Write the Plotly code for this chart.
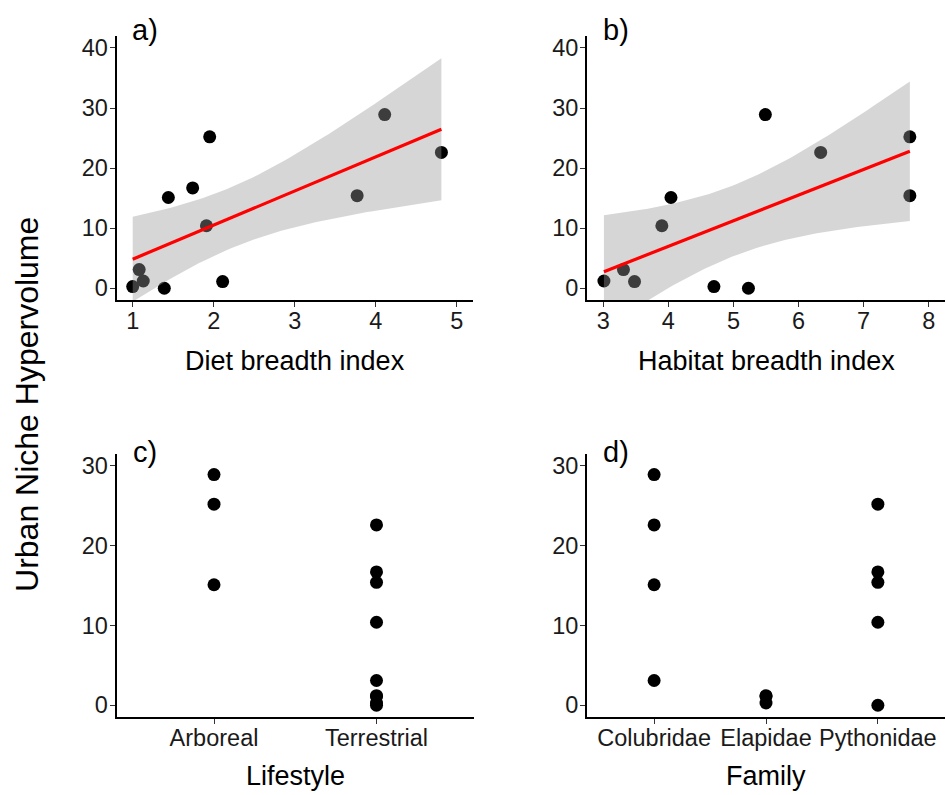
import numpy as np
import plotly.graph_objects as go

# ---------------- data ----------------
diet_x = [1.00, 1.08, 1.13, 1.39, 1.44, 1.74, 1.91, 1.95, 2.11, 3.77, 4.11, 4.81]
diet_y = [0.28, 3.1, 1.2, 0.0, 15.1, 16.7, 10.4, 25.2, 1.1, 15.4, 28.9, 22.6]

habitat_x = [3.01, 3.31, 3.48, 3.90, 4.04, 4.70, 5.23, 5.49, 6.34, 7.71, 7.71]
habitat_y = [1.2, 3.1, 1.1, 10.4, 15.1, 0.28, 0.0, 28.9, 22.6, 25.2, 15.4]

lifestyle_cat = ["Arboreal"] * 3 + ["Terrestrial"] * 9
lifestyle_y = [28.9, 25.2, 15.1, 22.6, 16.7, 15.4, 10.4, 3.1, 1.2, 1.1, 0.28, 0.0]

family_cat = ["Colubridae"] * 4 + ["Elapidae"] * 3 + ["Pythonidae"] * 5
family_y = [28.9, 22.6, 15.1, 3.1, 1.2, 1.1, 0.28, 25.2, 16.7, 15.4, 10.4, 0.0]

lifestyle_levels = ["Arboreal", "Terrestrial"]
family_levels = ["Colubridae", "Elapidae", "Pythonidae"]

top_yticks = [0, 10, 20, 30, 40]
bottom_yticks = [0, 10, 20, 30]
diet_xticks = [1, 2, 3, 4, 5]
habitat_xticks = [3, 4, 5, 6, 7, 8]

# t quantiles (0.975) for residual degrees of freedom
T975 = {9: 2.262, 10: 2.228}

W, H = 946, 795
FONT = "Liberation Sans, Arial, Helvetica, sans-serif"


def lm_band(x, y, n_grid=80):
    x = np.asarray(x, float)
    y = np.asarray(y, float)
    n = len(x)
    b1, b0 = np.polyfit(x, y, 1)
    resid = y - (b0 + b1 * x)
    s = np.sqrt(np.sum(resid ** 2) / (n - 2))
    sxx = np.sum((x - x.mean()) ** 2)
    g = np.linspace(x.min(), x.max(), n_grid)
    fit = b0 + b1 * g
    se = s * np.sqrt(1.0 / n + (g - x.mean()) ** 2 / sxx)
    t = T975[n - 2]
    return g, fit, fit - t * se, fit + t * se


fig = go.Figure()

pt = dict(mode="markers", marker=dict(color="black", size=13), showlegend=False, hoverinfo="skip")

# panel a
fig.add_trace(go.Scatter(x=diet_x, y=diet_y, xaxis="x", yaxis="y", **pt))
g, f, lo, hi = lm_band(diet_x, diet_y)
fig.add_trace(go.Scatter(x=np.concatenate([g, g[::-1]]), y=np.concatenate([hi, lo[::-1]]),
                         fill="toself", fillcolor="rgba(153,153,153,0.4)", line=dict(width=0),
                         mode="lines", xaxis="x", yaxis="y", showlegend=False, hoverinfo="skip"))
fig.add_trace(go.Scatter(x=g, y=f, mode="lines", line=dict(color="#FF0000", width=3.2),
                         xaxis="x", yaxis="y", showlegend=False, hoverinfo="skip"))

# panel b
fig.add_trace(go.Scatter(x=habitat_x, y=habitat_y, xaxis="x2", yaxis="y2", **pt))
g, f, lo, hi = lm_band(habitat_x, habitat_y)
fig.add_trace(go.Scatter(x=np.concatenate([g, g[::-1]]), y=np.concatenate([hi, lo[::-1]]),
                         fill="toself", fillcolor="rgba(153,153,153,0.4)", line=dict(width=0),
                         mode="lines", xaxis="x2", yaxis="y2", showlegend=False, hoverinfo="skip"))
fig.add_trace(go.Scatter(x=g, y=f, mode="lines", line=dict(color="#FF0000", width=3.2),
                         xaxis="x2", yaxis="y2", showlegend=False, hoverinfo="skip"))

# panel c
fig.add_trace(go.Scatter(x=lifestyle_cat, y=lifestyle_y, xaxis="x3", yaxis="y3", **pt))
# panel d
fig.add_trace(go.Scatter(x=family_cat, y=family_y, xaxis="x4", yaxis="y4", **pt))


def px_x(a, b):
    return [a / W, min(b / W, 1.0)]


def px_y(top, bottom):
    return [1 - bottom / H, 1 - top / H]


axis_common = dict(showline=True, linecolor="black", linewidth=1.8, ticks="outside", ticklen=5,
                   tickwidth=1.3, tickcolor="#333333", showgrid=False, zeroline=False,
                   tickfont=dict(family=FONT, size=23.5, color="#1a1a1a"), fixedrange=True)
xa = dict(axis_common, ticklabelstandoff=-6)
ya = dict(axis_common, ticklabelstandoff=-3)

fig.update_layout(
    width=W, height=H,
    margin=dict(l=0, r=0, t=0, b=0),
    paper_bgcolor="white", plot_bgcolor="white",
    font=dict(family=FONT, color="black"),
    xaxis=dict(domain=px_x(116.5, 473), range=[0.8, 5.2], tickvals=diet_xticks, anchor="y", **xa),
    yaxis=dict(domain=px_y(35, 300), range=[-2, 42], tickvals=top_yticks, anchor="x", **ya),
    xaxis2=dict(domain=px_x(587, 945), range=[2.75, 8.25], tickvals=habitat_xticks, anchor="y2", **xa),
    yaxis2=dict(domain=px_y(35, 300), range=[-2, 42], tickvals=top_yticks, anchor="x2", **ya),
    xaxis3=dict(domain=px_x(116.5, 474), type="category", categoryorder="array", categoryarray=lifestyle_levels,
                range=[-0.6, 1.6], anchor="y3", **xa),
    yaxis3=dict(domain=px_y(454, 718), range=[-1.5, 31.5], tickvals=bottom_yticks, anchor="x3", **ya),
    xaxis4=dict(domain=px_x(587, 945), type="category", categoryorder="array", categoryarray=family_levels,
                range=[-0.6, 2.6], anchor="y4", **xa),
    yaxis4=dict(domain=px_y(454, 718), range=[-1.5, 31.5], tickvals=bottom_yticks, anchor="x4", **ya),
)


def ann(text, x, y, size, xanchor="center", textangle=0):
    fig.add_annotation(text=text, x=x / W, y=1 - y / H, xref="paper", yref="paper",
                       xanchor=xanchor, yanchor="middle", showarrow=False, textangle=textangle,
                       font=dict(family=FONT, size=size, color="black"))


ann("a)", 130, 29, 29, xanchor="left")
ann("b)", 601, 29, 29, xanchor="left")
ann("c)", 131, 452, 29, xanchor="left")
ann("d)", 601, 452, 29, xanchor="left")
ann("Diet breadth index", 295, 361, 27)
ann("Habitat breadth index", 766, 361, 27)
ann("Lifestyle", 295, 777, 27)
ann("Family", 766, 777, 27)
ann("Urban Niche Hypervolume", 27, 405, 32, textangle=-90)

fig.write_html(
    "out.html",
    config={"displayModeBar": False},
    post_script="document.body.style.margin='0';document.body.style.overflow='hidden';",
)
